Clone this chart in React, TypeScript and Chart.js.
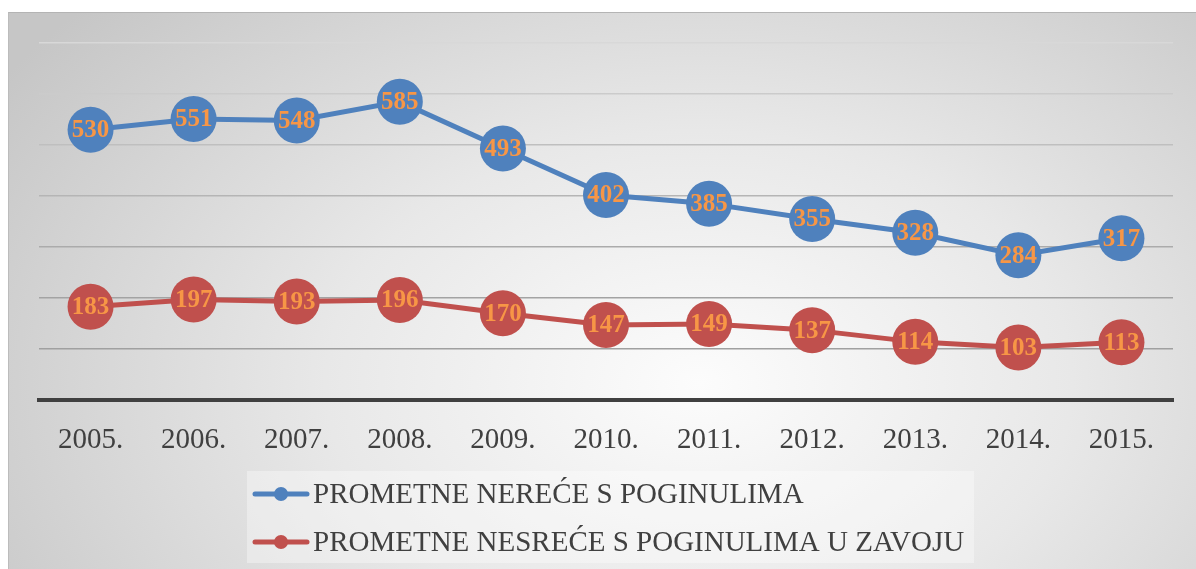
import React, { useEffect, useRef } from "react";
import { Chart, registerables } from "chart.js";

Chart.register(...registerables);

const categories = ["2005.", "2006.", "2007.", "2008.", "2009.", "2010.", "2011.", "2012.", "2013.", "2014.", "2015."];
const fatalAccidents = [530, 551, 548, 585, 493, 402, 385, 355, 328, 284, 317];
const curveAccidents = [183, 197, 193, 196, 170, 147, 149, 137, 114, 103, 113];
const seriesLabels = ["PROMETNE NEREĆE S POGINULIMA", "PROMETNE NESREĆE S POGINULIMA U ZAVOJU"];
const seriesColors = ["#4F81BD", "#C0504D"];
const yMin = 0;
const yMax = 700;
const yStep = 100;
const gridColors: Record<number, string> = {
  700: "#d8d8d8",
  600: "#cbcbcb",
  500: "#bfbfbf",
  400: "#b5b5b5",
  300: "#ababab",
  200: "#a3a3a3",
  100: "#a0a0a0",
  0: "rgba(0,0,0,0)",
};

const SERIF = '"Liberation Serif", "Times New Roman", serif';

const dataLabelPlugin = {
  id: "dataLabels",
  afterDatasetsDraw(chart: any) {
    const ctx = chart.ctx;
    ctx.save();
    ctx.font = `bold 25px ${SERIF}`;
    ctx.fillStyle = "#F79646";
    ctx.textAlign = "center";
    ctx.textBaseline = "middle";
    chart.data.datasets.forEach((ds: any, di: number) => {
      const meta = chart.getDatasetMeta(di);
      meta.data.forEach((el: any, i: number) => {
        ctx.fillText(String(ds.data[i]), el.x, el.y + 1);
      });
    });
    ctx.restore();
  },
};

const boxLegendPlugin = {
  id: "boxLegend",
  afterDraw(chart: any) {
    const ctx = chart.ctx;
    const left = 238;
    const top = 458;
    const width = 727;
    const height = 92;
    ctx.save();
    ctx.fillStyle = "rgba(255,255,255,0.35)";
    ctx.fillRect(left, top, width, height);
    const rows = [481, 529];
    chart.data.datasets.forEach((ds: any, i: number) => {
      const y = rows[i];
      ctx.strokeStyle = ds.borderColor;
      ctx.lineWidth = 5;
      ctx.lineCap = "round";
      ctx.beginPath();
      ctx.moveTo(246, y);
      ctx.lineTo(298, y);
      ctx.stroke();
      ctx.fillStyle = ds.borderColor;
      ctx.beginPath();
      ctx.arc(272, y, 7, 0, Math.PI * 2);
      ctx.fill();
      ctx.fillStyle = "#404040";
      ctx.font = `29px ${SERIF}`;
      ctx.textAlign = "left";
      ctx.textBaseline = "middle";
      ctx.fillText(ds.label, 304, y + 1);
    });
    ctx.restore();
  },
};

export default function App() {
  const canvasRef = useRef<HTMLCanvasElement | null>(null);

  useEffect(() => {
    if (!canvasRef.current) return;
    const chart = new Chart(canvasRef.current, {
      type: "line",
      data: {
        labels: categories,
        datasets: [
          {
            label: seriesLabels[0],
            data: fatalAccidents,
            borderColor: seriesColors[0],
            backgroundColor: seriesColors[0],
            pointBackgroundColor: seriesColors[0],
            borderWidth: 5,
            pointRadius: 23,
            pointHoverRadius: 23,
            pointBorderWidth: 0,
            tension: 0,
            clip: false as any,
          },
          {
            label: seriesLabels[1],
            data: curveAccidents,
            borderColor: seriesColors[1],
            backgroundColor: seriesColors[1],
            pointBackgroundColor: seriesColors[1],
            borderWidth: 5,
            pointRadius: 23,
            pointHoverRadius: 23,
            pointBorderWidth: 0,
            tension: 0,
            clip: false as any,
          },
        ],
      },
      options: {
        animation: false,
        responsive: true,
        maintainAspectRatio: false,
        layout: { padding: { left: 30, right: 16, top: 30, bottom: 0 } },
        plugins: {
          legend: { display: false },
          tooltip: { enabled: false },
          title: { display: false },
        },
        scales: {
          x: {
            offset: true,
            grid: { display: false, drawTicks: false },
            border: { display: true, color: "#404040", width: 4 },
            ticks: {
              color: "#404040",
              font: { family: SERIF, size: 29 },
              padding: 23,
              maxRotation: 0,
            },
            afterFit: (scale: any) => {
              scale.height = 169;
            },
          },
          y: {
            min: yMin,
            max: yMax,
            grid: {
              drawTicks: false,
              lineWidth: 1.5,
              color: (c: any) => gridColors[c.tick?.value] ?? "#b0b0b0",
            },
            border: { display: false },
            ticks: { display: false, stepSize: yStep },
            afterFit: (scale: any) => {
              scale.width = 0;
            },
          },
        },
      },
      plugins: [dataLabelPlugin, boxLegendPlugin],
    });
    return () => chart.destroy();
  }, []);

  return (
    <div
      style={{
        position: "fixed",
        left: 8,
        top: 12,
        width: 1188,
        height: 557,
        boxSizing: "border-box",
        borderTop: "1px solid #b4b4b4",
        borderLeft: "1px solid #bcbcbc",
        background:
          "radial-gradient(ellipse 830px 560px at 690px 370px, #fcfcfc 0%, #e8e8e8 45%, #c6c6c6 100%)",
      }}
    >
      <canvas ref={canvasRef} />
    </div>
  );
}
